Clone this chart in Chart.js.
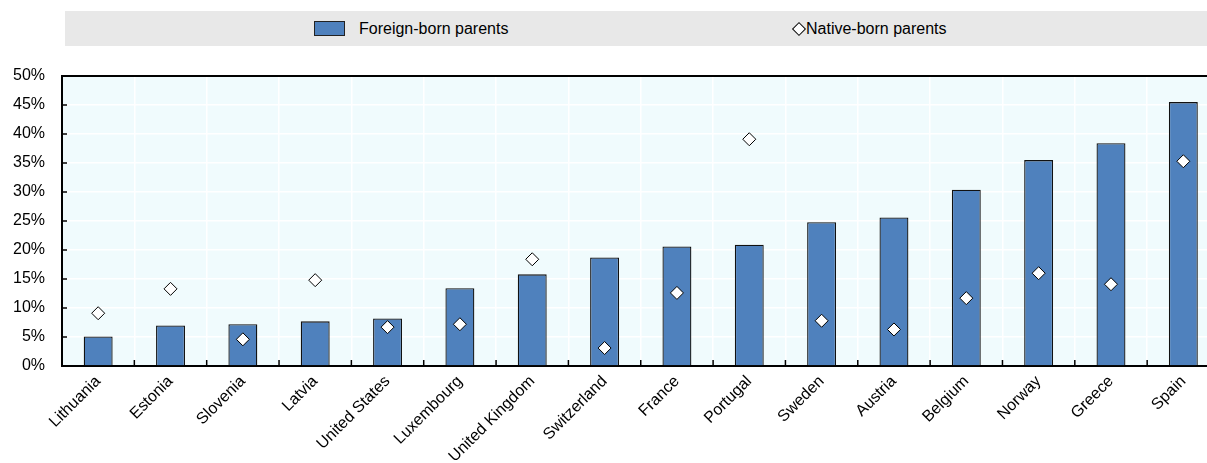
<!DOCTYPE html>
<html>
<head>
<meta charset="utf-8">
<script src="https://cdn.jsdelivr.net/npm/chart.js@4/dist/chart.umd.min.js"></script>
<style>
  body { margin: 0; background: #fff; font-family: 'Liberation Sans', Arial, sans-serif; }
  #wrap { position: relative; width: 1207px; height: 463px; overflow: hidden; }
  #chart { position: absolute; left: 0; top: 0; }
  #legend { position: absolute; left: 65px; top: 11px; width: 1142px; height: 35px; background: #e8e8e8; font-size: 16px; color: #000; }
  .item { position: absolute; top: 0; height: 35px; line-height: 35px; white-space: nowrap; }
  .box { position: absolute; left: 249px; top: 10px; width: 29px; height: 13px; background: #4f81bd; border: 1px solid #222; }
  .dia { position: absolute; left: 729px; top: 13px; width: 8px; height: 8px; background: #fff; border: 1px solid #000; transform: rotate(45deg); }
</style>
</head>
<body>
<div id="wrap">
  <canvas id="chart" width="1227" height="463"></canvas>
  <div id="legend">
    <div class="box"></div>
    <div class="item" style="left:294px">Foreign-born parents</div>
    <div class="dia"></div>
    <div class="item" style="left:741px">Native-born parents</div>
  </div>
</div>
<script>
const countries = ['Lithuania', 'Estonia', 'Slovenia', 'Latvia', 'United States', 'Luxembourg',
  'United Kingdom', 'Switzerland', 'France', 'Portugal', 'Sweden', 'Austria', 'Belgium',
  'Norway', 'Greece', 'Spain'];
const foreignBorn = [5.1, 7.0, 7.2, 7.7, 8.2, 13.4, 15.8, 18.7, 20.6, 20.9, 24.8, 25.6, 30.4, 35.5, 38.4, 45.5];
const nativeBorn = [9.1, 13.3, 4.6, 14.8, 6.7, 7.2, 18.4, 3.1, 12.6, 39.1, 7.8, 6.3, 11.7, 16.0, 14.1, 35.3];
const yTicks = [0, 5, 10, 15, 20, 25, 30, 35, 40, 45, 50];

// fond de la zone de tracé + petits repères intérieurs
const plotDecor = {
  id: 'plotDecor',
  beforeDraw(chart) {
    const { ctx, chartArea: a } = chart;
    ctx.save();
    ctx.fillStyle = '#f0fbfd';
    ctx.fillRect(a.left, a.top, a.right - a.left, a.bottom - a.top);
    ctx.restore();
  },
  afterDraw(chart) {
    const { ctx, chartArea: a } = chart;
    const x = chart.scales.x, y = chart.scales.y;
    ctx.save();
    ctx.strokeStyle = '#000';
    ctx.lineWidth = 1.5;
    ctx.beginPath();
    for (let i = 1; i < countries.length; i++) {
      const px = (x.getPixelForValue(i - 1) + x.getPixelForValue(i)) / 2;
      ctx.moveTo(px, a.bottom);
      ctx.lineTo(px, a.bottom - 6);
    }
    yTicks.forEach(v => {
      const py = y.getPixelForValue(v);
      ctx.moveTo(a.left, py);
      ctx.lineTo(a.left + 5, py);
    });
    ctx.stroke();
    ctx.lineWidth = 2;
    ctx.beginPath();
    ctx.moveTo(a.left, a.top);
    ctx.lineTo(a.right, a.top);
    ctx.stroke();
    ctx.restore();
  }
};

new Chart(document.getElementById('chart').getContext('2d'), {
  data: {
    labels: countries,
    datasets: [{
      type: 'line',
      label: 'Native-born parents',
      data: nativeBorn,
      showLine: false,
      pointStyle: 'rectRot',
      pointRadius: 6.5,
      backgroundColor: '#fff',
      borderColor: '#000',
      borderWidth: 1,
      order: 0
    }, {
      type: 'bar',
      label: 'Foreign-born parents',
      data: foreignBorn,
      backgroundColor: '#4f81bd',
      borderColor: '#111',
      borderWidth: 1.3,
      barPercentage: 0.4,
      categoryPercentage: 1,
      order: 1
    }]
  },
  options: {
    responsive: false,
    animation: false,
    layout: { padding: { top: 76, right: 1, left: 0, bottom: 0 } },
    plugins: { legend: { display: false }, tooltip: { enabled: false } },
    scales: {
      x: {
        offset: true,
        grid: { offset: true, color: '#fff', lineWidth: 1.5, drawTicks: false },
        border: { color: '#000', width: 2 },
        ticks: {
          color: '#000', font: { family: 'Liberation Sans', size: 16 },
          minRotation: 45, maxRotation: 45, autoSkip: false, padding: 6
        },
        afterFit(scale) { scale.height = 97; }
      },
      y: {
        min: 0, max: 50,
        afterBuildTicks(scale) { scale.ticks = yTicks.map(v => ({ value: v })); },
        grid: { color: '#fff', lineWidth: 1.5, drawTicks: false },
        border: { color: '#000', width: 2 },
        ticks: {
          color: '#000', font: { family: 'Liberation Sans', size: 16 }, padding: 17,
          callback: v => v + '%'
        },
        afterFit(scale) { scale.width = 62; }
      }
    }
  },
  plugins: [plotDecor]
});
</script>
</body>
</html>
